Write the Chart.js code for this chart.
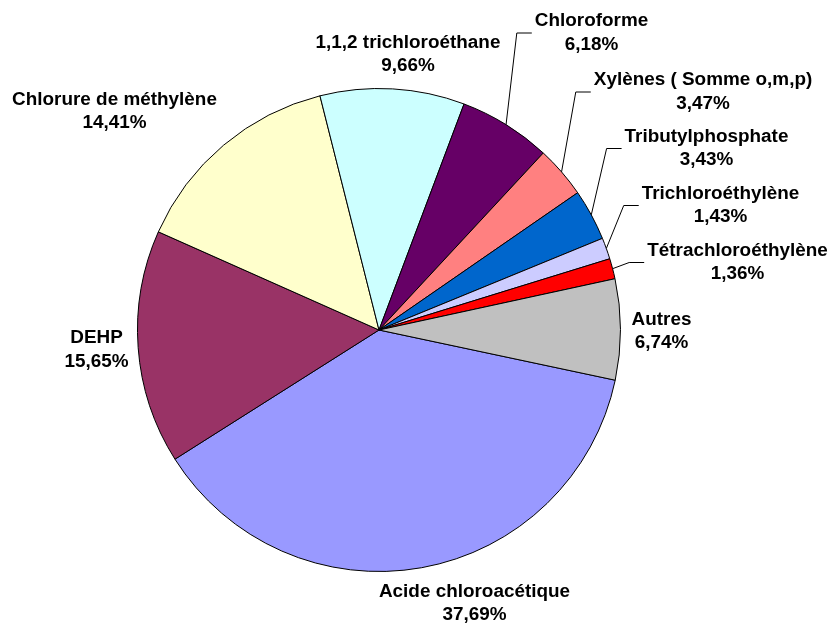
<!DOCTYPE html>
<html>
<head>
<meta charset="utf-8">
<script src="https://cdn.jsdelivr.net/npm/chart.js@4.4.0/dist/chart.umd.min.js"></script>
<style>
html, body { margin: 0; padding: 0; background: #fff; }
#wrap { width: 833px; height: 626px; }
</style>
</head>
<body>
<div id="wrap"><canvas id="myChart"></canvas></div>
<script>
const categories = ['Acide chloroacétique', 'DEHP', 'Chlorure de méthylène', '1,1,2 trichloroéthane', 'Chloroforme',
    'Xylènes ( Somme o,m,p)', 'Tributylphosphate', 'Trichloroéthylène', 'Tétrachloroéthylène', 'Autres'];
const percentages = [37.69, 15.65, 14.41, 9.66, 6.18, 3.47, 3.43, 1.43, 1.36, 6.74];

const sliceColors = ['#9999FF', '#993366', '#FFFFCC', '#CCFFFF', '#660066', '#FF8080', '#0066CC', '#CCCCFF', '#FF0000', '#C0C0C0'];
// label block centre, relative to the pie centre
const labelOffsets = [[95.5, 273.5], [-282.5, 20], [-264.5, -218.5], [29, -275.3], [212.5, -297],
    [324, -238], [327.5, -181.5], [341.5, -124.5], [358.5, -67.5], [282.5, 1.5]];
const withLeader = [false, false, false, false, true, true, true, true, true, false];

// Draws the two-line labels and the leader lines
const pieLabels = {
    id: 'pieLabels',
    afterDatasetsDraw(chart) {
        const ctx = chart.ctx;
        const arcs = chart.getDatasetMeta(0).data;
        ctx.save();
        ctx.font = 'bold 18px "Liberation Sans", Arial, sans-serif';
        ctx.fillStyle = '#000';
        ctx.strokeStyle = '#000';
        ctx.lineWidth = 1;
        ctx.textAlign = 'center';
        ctx.textBaseline = 'middle';
        const stretch = 1.05;
        arcs.forEach((arc, i) => {
            const cx = arc.x + labelOffsets[i][0];
            const cy = arc.y + labelOffsets[i][1];
            const lines = [categories[i], percentages[i].toFixed(2).replace('.', ',') + '%'];
            let maxW = 0;
            lines.forEach((t, k) => {
                maxW = Math.max(maxW, ctx.measureText(t).width * stretch);
                ctx.save();
                ctx.translate(cx, cy + (k === 0 ? -11.75 : 11.75));
                ctx.scale(stretch, 1);
                ctx.fillText(t, 0, 0);
                ctx.restore();
            });
            if (withLeader[i]) {
                const mid = (arc.startAngle + arc.endAngle) / 2;
                const px = arc.x + Math.cos(mid) * arc.outerRadius;
                const py = arc.y + Math.sin(mid) * arc.outerRadius;
                const left = cx - maxW / 2;
                ctx.beginPath();
                ctx.moveTo(px, py);
                ctx.lineTo(left - 18, cy);
                ctx.lineTo(left - 3, cy);
                ctx.stroke();
            }
        });
        ctx.restore();
    }
};

const ctx = document.getElementById('myChart').getContext('2d');
new Chart(ctx, {
    type: 'pie',
    data: {
        labels: categories,
        datasets: [{
            data: percentages,
            backgroundColor: sliceColors,
            borderColor: '#000',
            borderWidth: 1
        }]
    },
    options: {
        responsive: true,
        maintainAspectRatio: false,
        animation: false,
        rotation: 102,
        layout: {
            padding: { left: 137, right: 212, top: 88, bottom: 54 }
        },
        plugins: {
            legend: { display: false },
            tooltip: { enabled: false }
        }
    },
    plugins: [pieLabels]
});
</script>
</body>
</html>
